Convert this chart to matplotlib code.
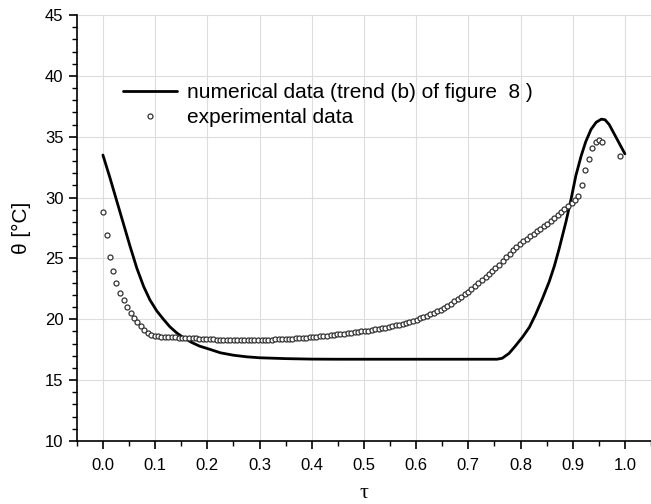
import numpy as np
import matplotlib
matplotlib.use("Agg")
import matplotlib.pyplot as plt
from matplotlib.ticker import MultipleLocator

plt.rcParams['font.family'] = ['Liberation Sans', 'DejaVu Sans']

# numerical data (trend (b) of figure 8)
tau_num = [0.000, 0.013, 0.026, 0.039, 0.052, 0.065, 0.078, 0.090, 0.103, 0.116,
           0.128, 0.141, 0.154, 0.170, 0.185, 0.200, 0.225, 0.250, 0.275, 0.300,
           0.350, 0.400, 0.450, 0.500, 0.600, 0.700, 0.755, 0.765, 0.778, 0.790,
           0.804, 0.817, 0.829, 0.842, 0.855, 0.865, 0.874, 0.887, 0.897, 0.906,
           0.916, 0.925, 0.935, 0.945, 0.955, 0.962, 0.970, 0.980, 0.990, 1.000]
theta_num = [33.5, 31.7, 29.8, 27.9, 26.0, 24.2, 22.7, 21.6, 20.7, 20.0,
             19.4, 18.9, 18.5, 18.1, 17.8, 17.6, 17.25, 17.05, 16.92, 16.84,
             16.77, 16.73, 16.72, 16.72, 16.72, 16.72, 16.72, 16.8, 17.2, 17.8,
             18.55, 19.35, 20.4, 21.7, 23.1, 24.4, 25.8, 28.0, 29.9, 31.8,
             33.4, 34.6, 35.6, 36.2, 36.45, 36.4, 36.0, 35.2, 34.4, 33.6]

# experimental data
tau_exp = [0.000, 0.007, 0.013, 0.020, 0.026, 0.033, 0.040, 0.046, 0.053, 0.059,
           0.066, 0.073, 0.079, 0.086, 0.092, 0.099, 0.106, 0.112, 0.119, 0.125,
           0.132, 0.139, 0.145, 0.152, 0.158, 0.165, 0.172, 0.178, 0.185, 0.191,
           0.198, 0.205, 0.211, 0.218, 0.224, 0.231, 0.238, 0.244, 0.251, 0.257,
           0.264, 0.271, 0.277, 0.284, 0.290, 0.297, 0.304, 0.310, 0.317, 0.323,
           0.330, 0.337, 0.343, 0.350, 0.356, 0.363, 0.370, 0.376, 0.383, 0.389,
           0.396, 0.403, 0.409, 0.416, 0.422, 0.429, 0.436, 0.442, 0.449, 0.455,
           0.462, 0.469, 0.475, 0.482, 0.488, 0.495, 0.502, 0.508, 0.515, 0.521,
           0.528, 0.535, 0.541, 0.548, 0.554, 0.561, 0.568, 0.574, 0.581, 0.587,
           0.594, 0.601, 0.607, 0.614, 0.620, 0.627, 0.634, 0.640, 0.647, 0.653,
           0.660, 0.667, 0.673, 0.680, 0.686, 0.693, 0.700, 0.706, 0.713, 0.719,
           0.726, 0.733, 0.739, 0.746, 0.752, 0.759, 0.766, 0.772, 0.779, 0.785,
           0.792, 0.799, 0.805, 0.812, 0.818, 0.825, 0.832, 0.838, 0.845, 0.851,
           0.858, 0.865, 0.871, 0.878, 0.884, 0.891, 0.898, 0.904, 0.911, 0.917,
           0.924, 0.931, 0.937, 0.944, 0.950, 0.957, 0.990]
theta_exp = [28.8, 26.95, 25.1, 24.0, 23.0, 22.2, 21.55, 21.0, 20.55, 20.1,
             19.75, 19.45, 19.15, 18.9, 18.75, 18.65, 18.6, 18.58, 18.56, 18.55,
             18.53, 18.52, 18.5, 18.49, 18.48, 18.46, 18.45, 18.43, 18.42, 18.4,
             18.38, 18.37, 18.35, 18.34, 18.33, 18.32, 18.31, 18.3, 18.3, 18.29,
             18.29, 18.29, 18.29, 18.3, 18.3, 18.3, 18.31, 18.32, 18.33, 18.34,
             18.35, 18.36, 18.37, 18.38, 18.4, 18.41, 18.43, 18.45, 18.47, 18.49,
             18.51, 18.54, 18.57, 18.6, 18.63, 18.66, 18.69, 18.72, 18.76, 18.8,
             18.83, 18.86, 18.89, 18.93, 18.96, 19.0, 19.04, 19.08, 19.12, 19.17,
             19.22, 19.27, 19.32, 19.38, 19.44, 19.5, 19.57, 19.64, 19.71, 19.79,
             19.88, 19.97, 20.07, 20.18, 20.29, 20.41, 20.53, 20.66, 20.8, 20.95,
             21.12, 21.29, 21.47, 21.66, 21.86, 22.06, 22.27, 22.49, 22.72, 22.96,
             23.2, 23.44, 23.69, 23.95, 24.22, 24.5, 24.8, 25.1, 25.4, 25.67,
             25.93, 26.17, 26.4, 26.62, 26.83, 27.03, 27.23, 27.43, 27.65, 27.87,
             28.1, 28.33, 28.57, 28.82, 29.06, 29.3, 29.54, 29.78, 30.1, 31.0,
             32.3, 33.2, 34.1, 34.55, 34.7, 34.6, 33.4]

fig = plt.figure(figsize=(6.51, 5.04), dpi=100)
ax = fig.add_axes([0.118, 0.125, 0.882, 0.845])

# curves
ax.plot(tau_num, theta_num, color='black', lw=2.0, solid_capstyle='round',
        label='numerical data (trend (b) of figure  8 )', zorder=3)
ax.plot(tau_exp, theta_exp, linestyle='none', marker='o', ms=3.6,
        mfc='white', mec='#333333', mew=0.9,
        label='experimental data', zorder=4)

# axes styling
ax.set_xlim(-0.05, 1.05)
ax.set_ylim(10, 45)
ax.xaxis.set_major_locator(MultipleLocator(0.1))
ax.xaxis.set_minor_locator(MultipleLocator(0.05))
ax.yaxis.set_major_locator(MultipleLocator(5))
ax.yaxis.set_minor_locator(MultipleLocator(1))
ax.set_xticks(np.arange(0, 1.01, 0.1))
ax.set_xticklabels([f'{v:.1f}' for v in np.arange(0, 1.01, 0.1)])
ax.grid(True, which='major', color='#dddddd', lw=0.8)
ax.set_axisbelow(True)
for s in ['top', 'right']:
    ax.spines[s].set_visible(False)
for s in ['left', 'bottom']:
    ax.spines[s].set_linewidth(1.2)
ax.tick_params(which='major', direction='out', length=6, width=1.2, labelsize=12, colors='black')
ax.tick_params(which='minor', direction='out', length=3.5, width=1.0)
ax.tick_params(axis='x', pad=6)

ax.set_xlabel('τ', fontsize=16, family=['Liberation Serif', 'DejaVu Serif'], labelpad=8)
ax.set_ylabel('θ [°C]', fontsize=15, labelpad=10)

ax.legend(loc='upper left', bbox_to_anchor=(0.08, 0.84), frameon=False,
          fontsize=15, handlelength=2.6, handletextpad=0.5, labelspacing=0.27,
          borderpad=0, borderaxespad=0, numpoints=1)

fig.savefig('out.png', dpi=100)
